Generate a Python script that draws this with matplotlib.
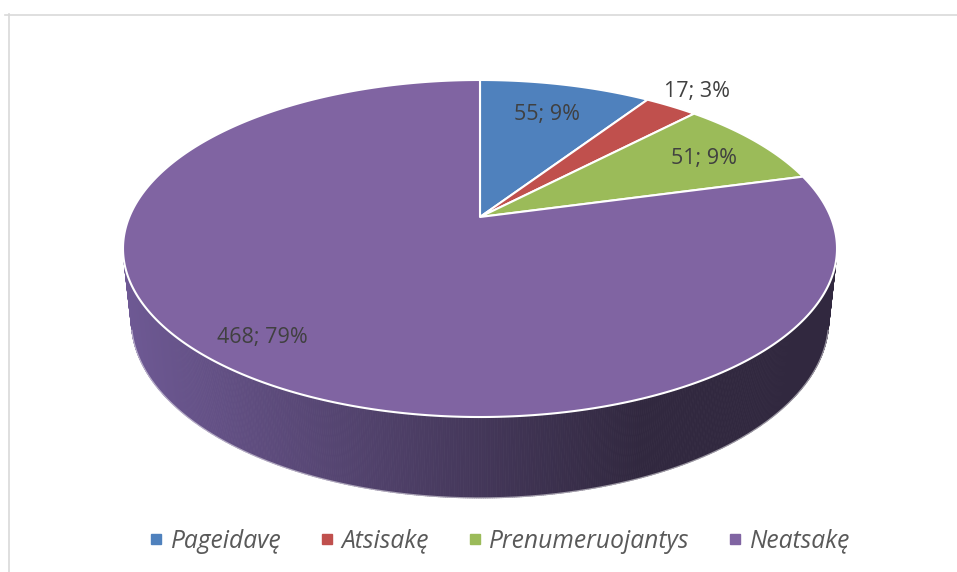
import numpy as np
import matplotlib
matplotlib.use("Agg")
import matplotlib.pyplot as plt
from matplotlib.patches import Polygon
from matplotlib.collections import PolyCollection
from matplotlib.lines import Line2D
from matplotlib.colors import to_rgb

# ---- data ----
categories = ["Pageidavę", "Atsisakę", "Prenumeruojantys", "Neatsakę"]
values = [55, 17, 51, 468]
top_colors = ["#4F81BD", "#C0504D", "#9BBB59", "#8064A2"]
wall_light = "#6E5994"
wall_dark = "#31283F"
label_radius = [0.75, 1.16, 0.80, 0.84]
label_nudge = [(0, 0), (0, 0), (0, 3), (-13, -3)]

W, H = 957, 572
fig = plt.figure(figsize=(W / 100, H / 100), dpi=100)
fig.patch.set_facecolor("white")
ax = fig.add_axes([0, 0, 1, 1])
ax.set_xlim(0, W)
ax.set_ylim(H, 0)
ax.axis("off")

# ---- perspective camera ----
S = 0.4637
C = np.sqrt(1 - S * S)
D = 4.739
F = 1662.0
CX, CY = 480.0, 217.0
THICK = 0.2325


def proj(x, y, z):
    depth = D + y * C - z * S
    return CX + F * x / depth, CY - F * (y * S + z * C) / depth


def ring(theta_deg, r=1.0, z=0.0):
    t = np.radians(theta_deg)
    return proj(r * np.sin(t), r * np.cos(t), z)


total = sum(values)
bounds = np.concatenate([[0], np.cumsum(values)]) / total * 360.0

# ---- side wall (visible front part), shaded left-to-right ----
t_vis = np.degrees(np.arccos(-1.0 / (D * C)))
ts = np.linspace(t_vis, 360 - t_vis, 500)
cl, cd = np.array(to_rgb(wall_light)), np.array(to_rgb(wall_dark))
x_left, x_dark = 125.0, 640.0
polys, cols = [], []
for i in range(len(ts) - 1):
    a, b = ts[i], ts[i + 1]
    p1 = ring(a); p2 = ring(b)
    p3 = ring(b, z=-THICK); p4 = ring(a, z=-THICK)
    polys.append([p1, p2, p3, p4])
    mx = 0.25 * (p1[0] + p2[0] + p3[0] + p4[0])
    frac = np.clip((mx - x_left) / (x_dark - x_left), 0, 1)
    cols.append(cl + (cd - cl) * frac)
pc = PolyCollection(polys, facecolors=cols, edgecolors=cols, linewidths=0.6, zorder=1)
ax.add_collection(pc)
bx, by = ring(ts, z=-THICK)
ax.plot(bx, by, color="white", lw=1.0, alpha=0.5, zorder=2)

# ---- top face ----
for i, col in enumerate(top_colors):
    a0, a1 = bounds[i], bounds[i + 1]
    tt = np.linspace(a0, a1, max(int(a1 - a0) * 2, 8))
    xs, ys = ring(tt)
    pts = np.column_stack([np.concatenate([[CX], xs]), np.concatenate([[CY], ys])])
    ax.add_patch(Polygon(pts, closed=True, facecolor=col, edgecolor="white",
                         lw=1.5, joinstyle="round", zorder=3))

# ---- data labels ----
for i, v in enumerate(values):
    mid = 0.5 * (bounds[i] + bounds[i + 1])
    lx, ly = ring(mid, r=label_radius[i])
    dx, dy = label_nudge[i]
    pct = round(v / total * 100)
    ax.text(lx + dx, ly + dy, f"{v}; {pct}%", ha="center", va="center",
            fontsize=15.5, family="Open Sans", color="#404040", zorder=5)

# ---- chart frame ----
ax.plot([5, W], [14.5, 14.5], color="#D9D9D9", lw=1.2, zorder=0)
ax.plot([8.5, 8.5], [14, H], color="#D9D9D9", lw=1.2, zorder=0)

# ---- legend ----
handles = [Line2D([], [], marker="s", color=c, linestyle="None", markersize=7)
           for c in top_colors]
leg = fig.legend(handles, categories, loc="center", ncol=4,
                 bbox_to_anchor=(0.522, 1 - 541 / H), frameon=False,
                 prop={"family": "Open Sans", "style": "italic", "size": 17.7},
                 handlelength=0.6, handletextpad=0.3, columnspacing=1.55,
                 labelcolor="#595959")

fig.savefig("out.png", dpi=100)
